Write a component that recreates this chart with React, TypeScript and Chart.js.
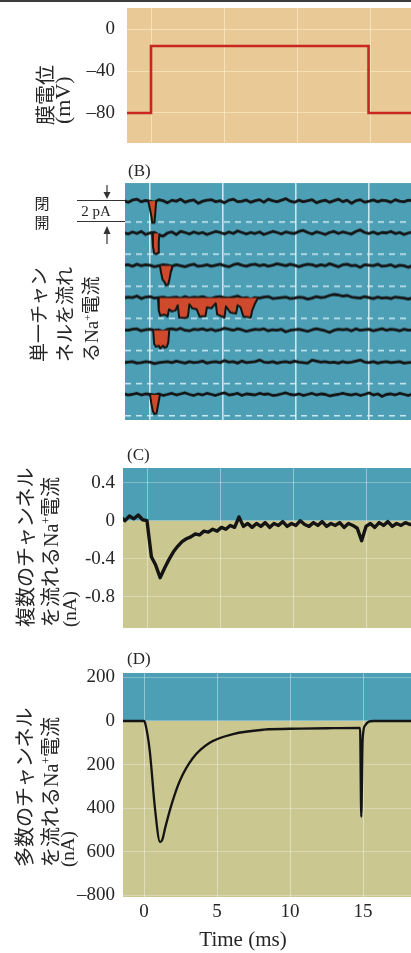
import React, { useEffect, useRef } from "react";
import { Chart, registerables } from "chart.js";

Chart.register(...registerables);

// ---------------- data ----------------
// sampling times (ms) shared by the noisy recordings of panels B and C
const TIME_MS = [
  -1.8, -1.5, -1.2, -0.9, -0.6, -0.3, 0, 0.3, 0.6, 0.9,
  1.2, 1.5, 1.8, 2.1, 2.4, 2.7, 3, 3.3, 3.6, 3.9,
  4.2, 4.5, 4.8, 5.1, 5.4, 5.7, 6, 6.3, 6.6, 6.9,
  7.2, 7.5, 7.8, 8.1, 8.4, 8.7, 9, 9.3, 9.6, 9.9,
  10.2, 10.5, 10.8, 11.1, 11.4, 11.7, 12, 12.3, 12.6, 12.9,
  13.2, 13.5, 13.8, 14.1, 14.4, 14.7, 15, 15.3, 15.6, 15.9,
  16.2, 16.5, 16.8, 17.1, 17.4, 17.7, 18, 18.3,
];
const X_TICKS = [0, 5, 10, 15];

// (A) membrane potential step (mV)
const STEP_T = [-1.8, 0, 0, 14.9, 14.9, 18.3];
const STEP_MV = [-80, -80, -16, -16, -80, -80];
const A_TICKS = [0, -40, -80];

// (B) single-channel currents (pA), baseline noise of the 7 sweeps
const B_NOISE_1 = [
  0.05, -0.1, 0.12, 0.2, -0.05, 0.08, 0.0, -0.1, 0.15, 0.05,
  -0.15, 0.1, 0.0, 0.2, -0.1, 0.05, 0.12, -0.2, 0.0, 0.1,
  0.15, -0.05, 0.05, -0.15, 0.1, 0.2, -0.05, 0.0, 0.12, -0.1,
  0.05, 0.15, -0.1, 0.2, 0.05, -0.05, 0.1, 0.25, 0.0, -0.1,
  0.1, -0.05, 0.05, 0.15, -0.15, 0.0, 0.1, -0.1, 0.05, 0.2,
  -0.05, 0.1, -0.2, 0.05, 0.15, -0.1, 0.0, 0.12, -0.05, 0.1,
  0.05, -0.1, 0.15, 0.0, -0.05, 0.1, 0.05, 0.0,
];
const B_NOISE_2 = [
  0.1, -0.05, 0.15, 0.0, 0.2, -0.1, 0.05, 0.1, -0.15, -0.25,
  0.05, 0.15, -0.1, 0.2, 0.1, -0.05, 0.15, 0.0, 0.1, -0.1,
  0.05, 0.2, 0.1, -0.05, 0.15, 0.0, 0.25, 0.1, -0.05, 0.1,
  0.0, 0.15, -0.1, 0.05, 0.2, 0.1, -0.05, 0.15, 0.05, 0.0,
  0.2, 0.3, 0.1, -0.05, 0.15, 0.05, -0.1, 0.1, 0.2, 0.0,
  0.15, 0.05, -0.05, 0.2, 0.35, 0.1, 0.0, 0.15, -0.05, 0.1,
  0.05, 0.2, 0.0, 0.1, -0.1, 0.05, 0.15, 0.05,
];
const B_NOISE_3 = [
  0.05, 0.1, -0.05, 0.15, 0.0, 0.1, 0.05, -0.1, 0.0, 0.1,
  0.05, -0.05, 0.1, 0.0, -0.1, 0.05, 0.15, -0.05, 0.0, 0.1,
  -0.05, 0.05, 0.15, 0.0, -0.1, 0.1, 0.2, 0.05, -0.05, 0.1,
  0.15, 0.0, 0.1, -0.05, 0.05, 0.2, 0.1, 0.0, 0.15, 0.05,
  -0.1, 0.05, 0.15, 0.1, -0.05, 0.1, 0.0, 0.2, 0.05, -0.1,
  0.1, 0.15, 0.0, 0.05, -0.15, 0.1, 0.05, 0.0, 0.15, -0.05,
  0.0, 0.1, -0.1, 0.05, 0.0, -0.15, 0.05, 0.1,
];
const B_NOISE_4 = [
  0.0, 0.1, 0.05, 0.2, -0.05, 0.1, 0.15, 0.0, 0.05, 0.1,
  0.0, 0.05, 0.1, -0.05, 0.15, 0.0, 0.1, 0.05, 0.15, 0.0,
  -0.05, 0.1, 0.15, 0.05, 0.0, 0.1, 0.2, 0.0, 0.05, -0.1,
  0.05, 0.0, 0.1, 0.15, -0.05, 0.0, 0.05, 0.1, -0.05, 0.0,
  0.1, 0.05, -0.1, 0.0, 0.15, 0.05, 0.1, 0.25, 0.35, 0.3,
  0.2, 0.25, 0.1, 0.05, 0.0, 0.15, 0.05, -0.05, 0.1, 0.0,
  0.05, -0.05, 0.1, 0.05, 0.0, -0.1, 0.05, 0.0,
];
const B_NOISE_5 = [
  0.05, 0.0, 0.1, 0.15, -0.05, 0.05, 0.1, 0.0, 0.05, -0.1,
  0.1, 0.15, 0.05, 0.2, 0.0, -0.05, 0.1, 0.05, 0.15, 0.0,
  0.1, -0.05, 0.05, 0.2, 0.1, 0.0, 0.15, 0.05, -0.1, 0.0,
  0.1, 0.05, 0.15, -0.05, 0.05, 0.0, 0.1, -0.15, 0.0, 0.05,
  0.1, 0.0, -0.1, 0.05, 0.15, 0.05, -0.05, -0.2, 0.0, 0.1,
  0.05, 0.1, -0.05, 0.15, 0.0, 0.05, 0.1, -0.05, 0.05, 0.15,
  0.0, 0.1, 0.05, -0.05, 0.1, 0.0, 0.05, 0.1,
];
const B_NOISE_6 = [
  0.0, 0.05, 0.1, -0.05, 0.0, 0.1, 0.05, -0.1, 0.0, 0.05,
  0.1, 0.0, 0.15, 0.05, -0.05, 0.1, 0.0, 0.05, 0.15, -0.05,
  0.05, 0.1, 0.0, 0.2, 0.05, 0.1, -0.05, 0.15, 0.0, 0.05,
  0.1, 0.25, 0.05, 0.0, 0.1, -0.05, 0.05, 0.1, 0.0, 0.15,
  0.05, 0.0, -0.05, 0.25, 0.15, 0.05, 0.1, 0.0, 0.05, -0.05,
  0.1, 0.0, 0.05, 0.15, 0.25, 0.05, 0.0, 0.1, -0.05, 0.05,
  0.1, 0.0, 0.05, 0.1, -0.05, 0.0, 0.05, 0.0,
];
const B_NOISE_7 = [
  0.1, 0.0, 0.05, 0.15, 0.0, 0.1, 0.05, 0.0, 0.1, -0.05,
  0.05, 0.15, 0.0, 0.1, 0.2, 0.05, -0.05, 0.1, 0.0, 0.15,
  0.05, -0.05, 0.1, 0.2, 0.0, 0.05, 0.15, -0.05, 0.1, 0.05,
  0.0, 0.15, 0.05, 0.1, -0.05, 0.0, 0.1, 0.2, 0.05, 0.0,
  0.1, -0.05, 0.05, 0.15, 0.0, 0.1, 0.05, -0.1, 0.0, 0.05,
  0.15, 0.05, 0.0, 0.1, -0.05, 0.05, 0.2, 0.0, 0.1, -0.15,
  0.05, 0.1, 0.0, 0.15, 0.05, -0.05, 0.1, 0.05,
];
const B_SWEEPS = [B_NOISE_1, B_NOISE_2, B_NOISE_3, B_NOISE_4, B_NOISE_5, B_NOISE_6, B_NOISE_7];
const B_SWEEP_SPACING = 3.14; // pA between stacked sweeps
const B_OPEN_LEVEL = -2; // pA (2 pA unitary current)

// channel openings: sweep index, times (ms), current (pA)
const OPEN_1_T = [-0.12, 0.0, 0.1, 0.15, 0.3, 0.36, 0.42];
const OPEN_1_I = [0, -0.8, -1.5, -2.1, -2.1, -1.2, 0];
const OPEN_2_T = [0.15, 0.2, 0.28, 0.4, 0.55, 0.6, 0.65];
const OPEN_2_I = [0, -1.2, -1.9, -2.0, -1.9, -0.8, 0];
const OPEN_3_T = [0.68, 0.75, 0.85, 1.0, 1.1, 1.25, 1.35, 1.45, 1.5];
const OPEN_3_I = [0, -0.6, -1.3, -1.6, -1.9, -1.8, -1.2, -0.4, 0];
const OPEN_4_T = [
  0.55, 0.6, 0.7, 1.0, 1.2, 1.3, 1.5, 1.75, 1.9, 2.0, 2.4, 2.6, 2.7, 2.9, 3.2, 3.4,
  3.8, 3.9, 4.2, 4.5, 4.6, 5.1, 5.2, 5.5, 5.9, 6.0, 6.2, 6.4, 6.9, 7.0, 7.2, 7.4,
];
const OPEN_4_I = [
  0, -1.2, -1.7, -1.6, -1.8, -1.1, -1.3, -1.2, -0.7, -1.9, -1.95, -1.8, -0.6, -1.0, -1.1, -1.8,
  -1.75, -0.9, -1.0, -0.5, -1.6, -1.9, -0.8, -1.4, -1.5, -0.7, -0.9, -1.8, -1.9, -1.2, -0.5, 0,
];
const OPEN_5_T = [0.22, 0.28, 0.4, 0.6, 0.7, 0.9, 1.0, 1.15, 1.25, 1.32];
const OPEN_5_I = [0, -1.3, -1.6, -1.5, -1.75, -1.5, -1.7, -1.6, -1.2, 0];
const OPEN_7_T = [0.0, 0.1, 0.2, 0.3, 0.45, 0.55, 0.68];
const OPEN_7_I = [0, -0.9, -1.6, -1.85, -1.8, -1.0, 0];
const B_OPENINGS = [
  { sweep: 0, t: OPEN_1_T, i: OPEN_1_I },
  { sweep: 1, t: OPEN_2_T, i: OPEN_2_I },
  { sweep: 2, t: OPEN_3_T, i: OPEN_3_I },
  { sweep: 3, t: OPEN_4_T, i: OPEN_4_I },
  { sweep: 4, t: OPEN_5_T, i: OPEN_5_I },
  { sweep: 6, t: OPEN_7_T, i: OPEN_7_I },
];

// (C) macroscopic current from several channels (nA), on TIME_MS
const C_NA = [
  0.04, 0.0, 0.05, 0.02, 0.06, 0.01, 0.0, -0.38, -0.47, -0.6,
  -0.5, -0.41, -0.33, -0.27, -0.22, -0.19, -0.17, -0.14, -0.15, -0.11,
  -0.12, -0.09, -0.11, -0.07, -0.09, -0.05, -0.07, 0.04, -0.06, -0.03,
  -0.07, -0.03, -0.06, -0.02, -0.07, -0.03, -0.05, -0.01, -0.06, -0.03,
  -0.05, 0.0, -0.04, -0.06, -0.02, -0.05, -0.01, -0.06, -0.03, -0.05,
  -0.02, -0.07, -0.03, -0.05, -0.08, -0.21, -0.06, -0.03, -0.07, -0.02,
  -0.05, -0.01, -0.06, -0.03, -0.05, -0.02, -0.04, -0.03,
];
const C_TICKS = [0.4, 0, -0.4, -0.8];
const C_TICK_LABELS = ["0.4", "0", "-0.4", "-0.8"];

// (D) macroscopic current from many channels (nA)
const D_T = [
  -1.6, 0, 0.1, 0.4, 0.75, 1.1, 1.25, 1.45, 1.9, 2.45, 3.35, 4.5, 6.1, 8.2, 10.7, 13,
  14.8, 14.88, 14.98, 15.15, 15.4, 15.7, 18.4,
];
const D_NA = [
  0, 0, -15, -140, -400, -555, -545, -490, -380, -275, -170, -100, -60, -40, -35, -33,
  -32, -440, -80, -20, -3, 0, 0,
];
const D_TICKS = [200, 0, -200, -400, -600, -800];
const D_TICK_LABELS = ["200", "0", "200", "400", "600", "\u2013800"];

// ---------------- styling / layout ----------------
const PAGE_W = 411;
const PX_PER_MS = 14.6;
const SERIF = '"Liberation Serif", "DejaVu Serif", serif';
const CJK = '"Noto Sans CJK JP", "Noto Sans CJK SC", sans-serif';
const INK = "#262626";
const TRACE = "#141414";
const TAN = "#E9C995";
const TEAL = "#4C9FB5";
const KHAKI = "#CBC791";
const OPEN_RED = "#CF4A2C";

function backdrop(upper: string, lower: string, split: number | null) {
  return {
    id: "backdrop",
    beforeDraw(chart: any) {
      const { ctx, chartArea: a } = chart;
      ctx.save();
      ctx.fillStyle = lower;
      ctx.fillRect(a.left, a.top, a.right - a.left, a.bottom - a.top);
      if (split !== null) {
        const y = chart.scales.y.getPixelForValue(split);
        ctx.fillStyle = upper;
        ctx.fillRect(a.left, a.top, a.right - a.left, y - a.top);
      }
      ctx.restore();
    },
  };
}

function xScale(zeroX: number, plotLeft: number, showLabels: boolean, gridColor: string, gridWidth: number) {
  return {
    type: "linear",
    min: -(zeroX - plotLeft) / PX_PER_MS,
    max: (PAGE_W - zeroX) / PX_PER_MS,
    afterBuildTicks: (s: any) => {
      s.ticks = X_TICKS.map((v) => ({ value: v }));
    },
    afterFit: (s: any) => {
      s.height = showLabels ? 36 : 0;
      s.paddingLeft = 0;
      s.paddingRight = 0;
    },
    ticks: { display: showLabels, color: INK, font: { family: SERIF, size: 19 }, padding: 4, maxRotation: 0 },
    grid: { color: gridColor, lineWidth: gridWidth, drawTicks: false },
    border: { display: false },
  };
}

function yScale(
  plotLeft: number,
  min: number,
  max: number,
  ticks: number[],
  label: ((v: number) => string) | null,
  gridColor: string,
  gridWidth: number,
  dash: number[] = []
) {
  return {
    type: "linear",
    min,
    max,
    afterBuildTicks: (s: any) => {
      s.ticks = ticks.map((v) => ({ value: v }));
    },
    afterFit: (s: any) => {
      s.width = plotLeft;
      s.paddingTop = 0;
      s.paddingBottom = 0;
    },
    ticks: {
      display: label !== null,
      color: INK,
      font: { family: SERIF, size: 19 },
      padding: plotLeft - 115,
      callback: (v: number) => (label ? label(v) : ""),
    },
    grid: { color: gridColor, lineWidth: gridWidth, drawTicks: false },
    border: { display: false, dash },
  };
}

function baseOptions(padTop: number, padBottom: number, scales: any) {
  return {
    animation: false,
    responsive: false,
    events: [],
    layout: { padding: { top: padTop, bottom: padBottom, left: 0, right: 0 } },
    plugins: { legend: { display: false }, tooltip: { enabled: false } },
    elements: { point: { radius: 0 }, line: { tension: 0 } },
    scales,
  };
}

const PAD = 12;

// Panel A: plot 127..411 x 8..143
function buildA() {
  const left = 127;
  return {
    type: "line",
    data: {
      datasets: [
        {
          data: STEP_T.map((t, k) => ({ x: t, y: STEP_MV[k] })),
          borderColor: "#C8261F",
          borderWidth: 2.6,
          clip: 0,
        },
      ],
    },
    options: baseOptions(8, PAD, {
      x: xScale(151, left, false, "rgba(255,245,215,0.55)", 1),
      y: yScale(left, -108.7, 20.4, A_TICKS, (v) => (v < 0 ? "\u2013" + Math.abs(v) : String(v)), "rgba(255,245,215,0.5)", 1),
    }),
    plugins: [backdrop(TAN, TAN, null)],
  };
}

// Panel B: plot 125..411 x 183.3..420
function buildB() {
  const left = 125;
  const openDs = B_OPENINGS.map((o) => ({
    data: o.t.map((t, k) => ({ x: t, y: o.i[k] - o.sweep * B_SWEEP_SPACING })),
    borderColor: TRACE,
    borderWidth: 2,
    backgroundColor: OPEN_RED,
    fill: { value: -o.sweep * B_SWEEP_SPACING },
    borderJoinStyle: "round",
    clip: 0,
  }));
  const sweepDs = B_SWEEPS.map((noise, s) => ({
    data: TIME_MS.map((t, k) => ({ x: t, y: noise[k] - s * B_SWEEP_SPACING })),
    borderColor: TRACE,
    borderWidth: 2.8,
    borderJoinStyle: "round",
    fill: false,
    clip: 0,
  }));
  const openLevels = B_SWEEPS.map((_, s) => B_OPEN_LEVEL - s * B_SWEEP_SPACING);
  return {
    type: "line",
    data: { datasets: [...openDs, ...sweepDs] },
    options: baseOptions(PAD, PAD, {
      x: xScale(150, left, false, "rgba(230,248,252,0.8)", 1.6),
      y: yScale(left, -21.28, 1.77, openLevels, null, "rgba(225,244,250,0.85)", 1.6, [6, 5]),
    }),
    plugins: [backdrop(TEAL, TEAL, null)],
  };
}

// Panel C: plot 123..411 x 468..628
function buildC() {
  const left = 123;
  return {
    type: "line",
    data: {
      datasets: [
        {
          data: TIME_MS.map((t, k) => ({ x: t, y: C_NA[k] })),
          borderColor: TRACE,
          borderWidth: 3.4,
          borderJoinStyle: "round",
          clip: 0,
        },
      ],
    },
    options: baseOptions(PAD, PAD, {
      x: xScale(147, left, false, "rgba(255,255,255,0.4)", 1),
      y: yScale(left, -1.13, 0.555, C_TICKS, (v) => C_TICK_LABELS[C_TICKS.indexOf(v)] ?? "", "rgba(255,255,255,0.3)", 1),
    }),
    plugins: [backdrop(TEAL, KHAKI, 0)],
  };
}

// Panel D: plot 123..411 x 673..897, with time axis labels
function buildD() {
  const left = 123;
  return {
    type: "line",
    data: {
      datasets: [
        {
          data: D_T.map((t, k) => ({ x: t, y: D_NA[k] })),
          borderColor: TRACE,
          borderWidth: 2.3,
          cubicInterpolationMode: "monotone",
          clip: 0,
        },
      ],
    },
    options: baseOptions(PAD, 0, {
      x: xScale(144, left, true, "rgba(255,255,255,0.4)", 1),
      y: yScale(left, -807, 220, D_TICKS, (v) => D_TICK_LABELS[D_TICKS.indexOf(v)] ?? "", "rgba(255,255,255,0.3)", 1),
    }),
    plugins: [backdrop(TEAL, KHAKI, 0)],
  };
}

function ChartCanvas({ top, height, build }: { top: number; height: number; build: () => any }) {
  const ref = useRef<HTMLCanvasElement | null>(null);
  useEffect(() => {
    const chart = new Chart(ref.current as HTMLCanvasElement, build() as any);
    return () => chart.destroy();
  }, []);
  return (
    <canvas
      ref={ref}
      width={PAGE_W}
      height={height}
      style={{ position: "absolute", left: 0, top, width: PAGE_W, height }}
    />
  );
}

// a column of text rotated to read bottom-to-top, starting at `bottom`
function Col({
  cx,
  bottom,
  size,
  lh,
  family,
  children,
}: {
  cx: number;
  bottom: number;
  size: number;
  lh: number;
  family: string;
  children: React.ReactNode;
}) {
  return (
    <div
      style={{
        position: "absolute",
        left: cx - lh / 2,
        top: bottom,
        transformOrigin: "0 0",
        transform: "rotate(-90deg)",
        whiteSpace: "nowrap",
        fontSize: size,
        lineHeight: lh + "px",
        fontFamily: family,
        color: INK,
      }}
    >
      {children}
    </div>
  );
}

const Na = () => (
  <>
    <span style={{ fontFamily: SERIF }}>Na</span>
    <sup style={{ fontSize: "0.6em", lineHeight: 0, fontFamily: SERIF }}>+</sup>
  </>
);

function Text({ x, y, size, family, children, center }: any) {
  return (
    <div
      style={{
        position: "absolute",
        left: x,
        top: y,
        transform: center ? "translate(-50%, -50%)" : "translate(0, -50%)",
        whiteSpace: "nowrap",
        fontSize: size,
        lineHeight: 1.2,
        fontFamily: family,
        color: INK,
      }}
    >
      {children}
    </div>
  );
}

export default function App() {
  return (
    <div
      style={{
        position: "absolute",
        left: 0,
        top: 0,
        width: PAGE_W,
        height: 953,
        background: "#ffffff",
        overflow: "hidden",
      }}
    >
      <div style={{ position: "absolute", left: 0, top: 0, width: PAGE_W, height: 2, background: "#3c3c3c" }} />

      <ChartCanvas top={0} height={143 + PAD} build={buildA} />
      <ChartCanvas top={183.3 - PAD} height={420 - 183.3 + 2 * PAD} build={buildB} />
      <ChartCanvas top={468 - PAD} height={628 - 468 + 2 * PAD} build={buildC} />
      <ChartCanvas top={673 - PAD} height={897 - 673 + PAD + 36} build={buildD} />

      {/* Panel A label */}
      <Col cx={45} bottom={125} size={20} lh={22} family={CJK}>膜電位</Col>
      <Col cx={63} bottom={124} size={22} lh={20} family={SERIF}>(mV)</Col>

      {/* Panel B */}
      <Text x={128} y={171} size={17} family={SERIF}>(B)</Text>
      <Text x={42} y={203} size={15} family={CJK} center>閉</Text>
      <Text x={42} y={222} size={15} family={CJK} center>開</Text>
      <div style={{ position: "absolute", left: 77, top: 200, width: 48, height: 1, background: "#333" }} />
      <div style={{ position: "absolute", left: 77, top: 221, width: 48, height: 1, background: "#333" }} />
      <Text x={96} y={211} size={15} family={SERIF} center>2 pA</Text>
      <svg style={{ position: "absolute", left: 100, top: 184, width: 14, height: 62 }} width={14} height={62}>
        <line x1={7} y1={1} x2={7} y2={12} stroke="#333" strokeWidth={1.2} />
        <path d="M3.5 8 L7 15 L10.5 8 Z" fill="#333" />
        <line x1={7} y1={47} x2={7} y2={60} stroke="#333" strokeWidth={1.2} />
        <path d="M3.5 50 L7 42 L10.5 50 Z" fill="#333" />
      </svg>
      <Col cx={38} bottom={362} size={19} lh={24} family={CJK}>単一チャン</Col>
      <Col cx={64} bottom={362} size={19} lh={24} family={CJK}>ネルを流れ</Col>
      <Col cx={90} bottom={362} size={19} lh={24} family={CJK}>
        る<Na />電流
      </Col>

      {/* Panel C */}
      <Text x={127} y={455} size={17} family={SERIF}>(C)</Text>
      <Col cx={25} bottom={627} size={20} lh={24} family={CJK}>複数のチャンネル</Col>
      <Col cx={50} bottom={627} size={20} lh={24} family={CJK}>
        を流れる<Na />電流
      </Col>
      <Col cx={70} bottom={627} size={19} lh={20} family={SERIF}>(nA)</Col>

      {/* Panel D */}
      <Text x={127} y={659} size={17} family={SERIF}>(D)</Text>
      <Col cx={24} bottom={867} size={20} lh={24} family={CJK}>多数のチャンネル</Col>
      <Col cx={50} bottom={867} size={20} lh={24} family={CJK}>
        を流れる<Na />電流
      </Col>
      <Col cx={68} bottom={867} size={19} lh={20} family={SERIF}>(nA)</Col>
      <Text x={243} y={940} size={21} family={SERIF} center>Time (ms)</Text>
    </div>
  );
}
